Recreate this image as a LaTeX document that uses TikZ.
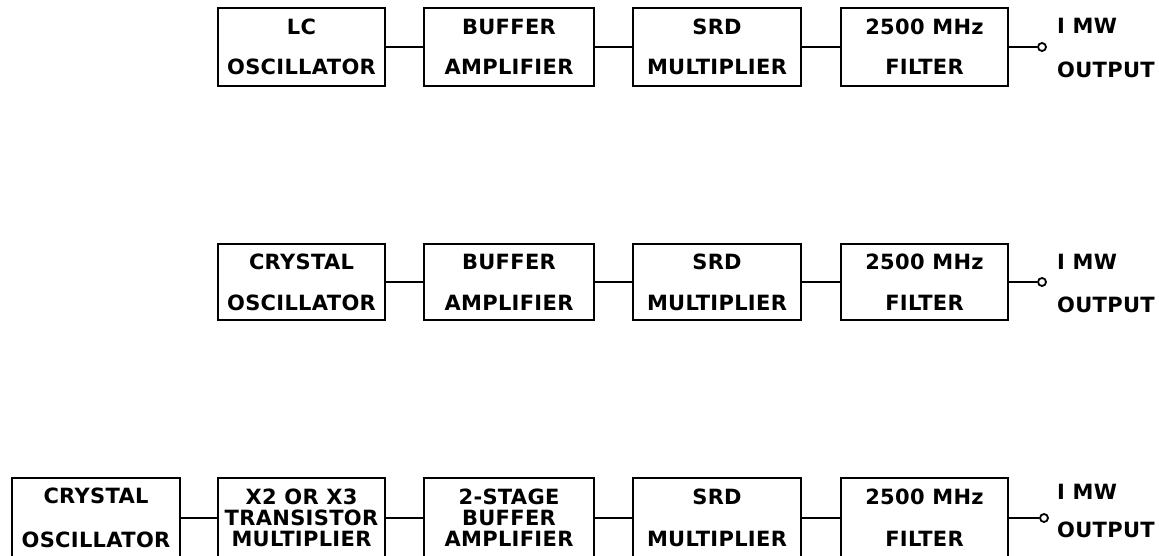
\documentclass[tikz,border=0pt]{standalone}
\usepackage{fontspec}
\newfontfamily\lr{DejaVu Sans}[LetterSpace=1.5]
\tikzset{
  blk/.style={draw, line width=2.2pt, inner sep=0pt, align=center, font={\lr\bfseries\fontsize{21}{#1}\selectfont}},
  blk/.default=40,
  wire/.style={line width=2pt},
  outpin/.style={circle, draw, line width=1.8pt, fill=white, inner sep=0pt, minimum size=8pt},
  outtxt/.style={anchor=west, inner sep=0pt, text height=15.3pt, text depth=0pt, font={\lr\bfseries\fontsize{21}{24}\selectfont}}
}
\begin{document}
\begin{tikzpicture}[x=1pt,y=-1pt]
\useasboundingbox (0,0) rectangle (1159,556);
\clip (0,0) rectangle (1159,556);
% Row 1
\node[blk=40, minimum width=167pt, minimum height=78pt] (r1b) at (301.5,47) {LC\\OSCILLATOR};
\node[blk=40, minimum width=170pt, minimum height=78pt] (r1c) at (509,47) {BUFFER\\AMPLIFIER};
\node[blk=40, minimum width=168pt, minimum height=78pt] (r1d) at (717,47) {SRD\\MULTIPLIER};
\node[blk=40, minimum width=167pt, minimum height=78pt] (r1e) at (924.5,47) {2500 MHz\\FILTER};
\node[outpin] (r1o) at (1042,47) {};
\draw[wire] (r1b) -- (r1c);
\draw[wire] (r1c) -- (r1d);
\draw[wire] (r1d) -- (r1e);
\draw[wire] (r1e) -- (r1o);
\node[outtxt] (r1t1) at (1057,26) {I MW};
\node[outtxt] (r1t2) at (1057,70) {OUTPUT};
% Row 2
\node[blk=41, minimum width=167pt, minimum height=76pt] (r2b) at (301.5,282) {CRYSTAL\\OSCILLATOR};
\node[blk=41, minimum width=170pt, minimum height=76pt] (r2c) at (509,282) {BUFFER\\AMPLIFIER};
\node[blk=41, minimum width=168pt, minimum height=76pt] (r2d) at (717,282) {SRD\\MULTIPLIER};
\node[blk=41, minimum width=167pt, minimum height=76pt] (r2e) at (924.5,282) {2500 MHz\\FILTER};
\node[outpin] (r2o) at (1042,282) {};
\draw[wire] (r2b) -- (r2c);
\draw[wire] (r2c) -- (r2d);
\draw[wire] (r2d) -- (r2e);
\draw[wire] (r2e) -- (r2o);
\node[outtxt] (r2t1) at (1057,262) {I MW};
\node[outtxt] (r2t2) at (1057,305) {OUTPUT};
% Row 3
\node[blk=44, minimum width=168pt, minimum height=80pt] (r3a) at (96,518) {CRYSTAL\\OSCILLATOR};
\node[blk=21, minimum width=167pt, minimum height=80pt] (r3b) at (301.5,518) {X2 OR X3\\TRANSISTOR\\MULTIPLIER};
\node[blk=21, minimum width=170pt, minimum height=80pt] (r3c) at (509,518) {2-STAGE\\BUFFER\\AMPLIFIER};
\node[blk=42, minimum width=168pt, minimum height=80pt] (r3d) at (717,518) {SRD\\MULTIPLIER};
\node[blk=42, minimum width=167pt, minimum height=80pt] (r3e) at (924.5,518) {2500 MHz\\FILTER};
\node[outpin] (r3o) at (1044,518) {};
\draw[wire] (r3a) -- (r3b);
\draw[wire] (r3b) -- (r3c);
\draw[wire] (r3c) -- (r3d);
\draw[wire] (r3d) -- (r3e);
\draw[wire] (r3e) -- (r3o);
\node[outtxt] (r3t1) at (1057,492) {I MW};
\node[outtxt] (r3t2) at (1057,530) {OUTPUT};
\end{tikzpicture}
\end{document}
